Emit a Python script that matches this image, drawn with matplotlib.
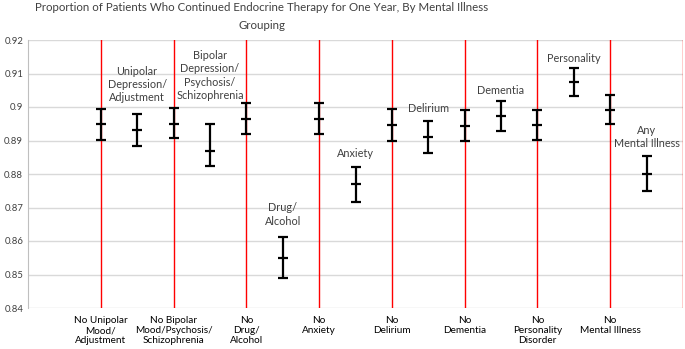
import matplotlib.pyplot as plt
import numpy as np

plt.rcParams['font.family'] = ['Lato', 'DejaVu Sans']

# tick labels under the "No ..." bars
no_labels = ['No Unipolar\nMood/\nAdjustment', 'No Bipolar\nMood/Psychosis/\nSchizophrenia',
             'No\nDrug/\nAlcohol', 'No\nAnxiety', 'No\nDelirium', 'No\nDementia',
             'No\nPersonality\nDisorder', 'No\nMental Illness']
# labels above the illness bars
yes_labels = ['Unipolar\nDepression/\nAdjustment', 'Bipolar\nDepression/\nPsychosis/\nSchizophrenia',
              'Drug/\nAlcohol', 'Anxiety', 'Delirium', 'Dementia', 'Personality',
              'Any\nMental Illness']

no_mid = [0.8949, 0.8950, 0.8965, 0.8965, 0.8947, 0.8944, 0.8946, 0.8992]
no_lo = [0.8901, 0.8906, 0.8920, 0.8920, 0.8900, 0.8899, 0.8901, 0.8948]
no_hi = [0.8994, 0.8996, 0.9011, 0.9011, 0.8993, 0.8992, 0.8991, 0.9036]

yes_mid = [0.8931, 0.8870, 0.8550, 0.8769, 0.8911, 0.8973, 0.9076, 0.8801]
yes_lo = [0.8884, 0.8823, 0.8490, 0.8715, 0.8863, 0.8928, 0.9034, 0.8749]
yes_hi = [0.8978, 0.8948, 0.8612, 0.8822, 0.8958, 0.9019, 0.9115, 0.8853]

# gap (points) between each label and its bar
label_gap = [8, 17, 7.5, 5.5, 5, 3.5, 3.5, 5]

fig = plt.figure(figsize=(6.85, 3.49), dpi=100)
ax = fig.add_axes([28/685, 1-308/349, 655/685, 268/349])

x_no = np.arange(1, 9)
x_yes = x_no + 0.5

# red separators
for xv in range(1, 10):
    ax.axvline(xv, color='#ff0000', lw=1.0, zorder=1)

def draw_bars(xs, mid, lo, hi):
    mid = np.array(mid)
    err = [mid - np.array(lo), np.array(hi) - mid]
    ax.errorbar(xs, mid, yerr=err, fmt='_', color='black', ms=6.7, mew=1.6,
                elinewidth=1.6, capsize=3.4, capthick=1.6, zorder=3)

draw_bars(x_no, no_mid, no_lo, no_hi)
draw_bars(x_yes, yes_mid, yes_lo, yes_hi)

for xv, top, lab, gap in zip(x_yes, yes_hi, yes_labels, label_gap):
    ax.annotate(lab, (xv, top), xytext=(0, gap), textcoords='offset points',
                ha='center', va='bottom', fontsize=7.8, color='#404040',
                linespacing=1.25)

ax.set_xlim(0, 9)
ax.set_ylim(0.84, 0.92)
ax.set_yticks(np.arange(0.84, 0.9201, 0.01))
ax.set_yticklabels(['0.84', '0.85', '0.86', '0.87', '0.88', '0.89', '0.9', '0.91', '0.92'])
ax.set_xticks(x_no)
ax.set_xticklabels(no_labels, fontsize=7.2, linespacing=1.15)
ax.tick_params(axis='both', length=0, colors='#404040', labelsize=6.8)
ax.tick_params(axis='x', pad=6, labelcolor='black', labelsize=7.2)
ax.yaxis.grid(True, color='#d9d9d9', lw=1)
ax.set_axisbelow(True)
for s in ['top', 'right', 'bottom']:
    ax.spines[s].set_visible(False)
ax.spines['left'].set_color('#bfbfbf')

fig.text(262/685, 1-2/349, 'Proportion of Patients Who Continued Endocrine Therapy for One Year, By Mental Illness\nGrouping',
         ha='center', va='top', fontsize=8.3, color='#404040', linespacing=1.75)

fig.savefig('out.png', dpi=100)
